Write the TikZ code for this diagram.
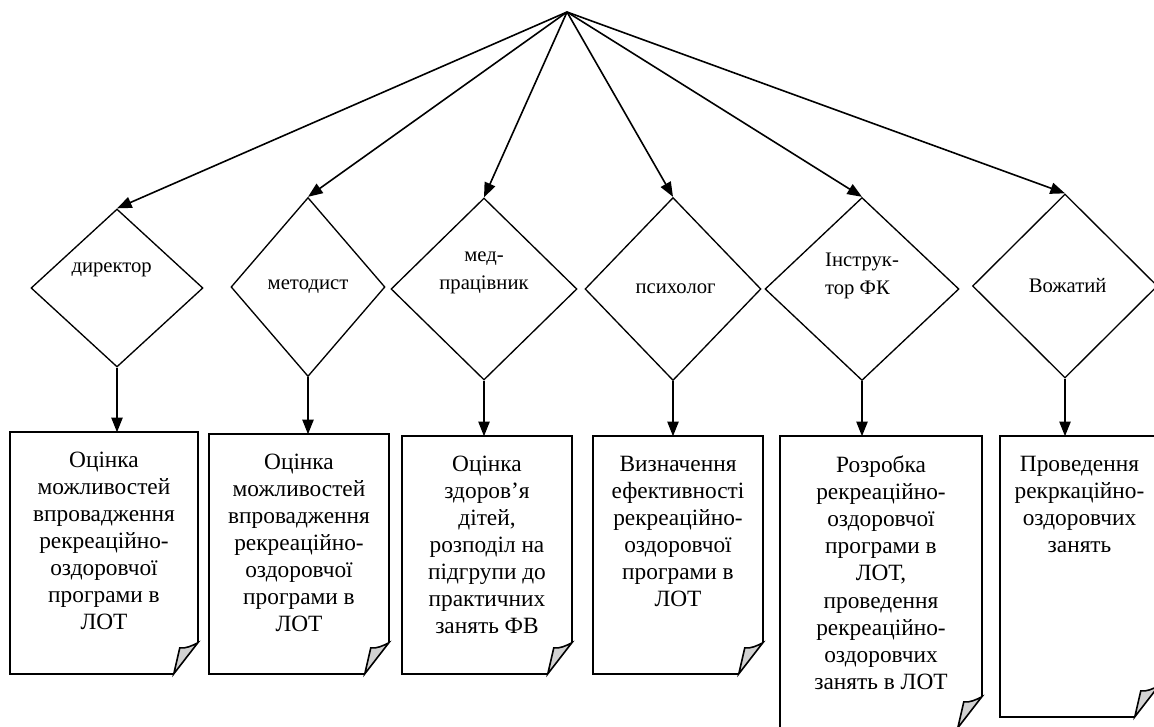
\documentclass[tikz,border=0pt]{standalone}
\usepackage{fontspec}
\setmainfont{Liberation Serif}
\usetikzlibrary{shapes.geometric,arrows.meta,calc}
\newdimen\px \px=0.75pt
\newcommand{\doctext}[3]{\parbox[c][#2\px][t]{#1\px}{\centering\fontsize{17.5}{20.3}\selectfont\vspace*{19\px}#3}}
\newcommand{\docframe}[1]{%
  \filldraw[fill=gray!35] ($(#1.south east)+(-24,0)$) -- ($(#1.south east)+(0,-31)$)
    .. controls ($(#1.south east)+(-6,-28)$) and ($(#1.south east)+(-12,-25)$) .. ($(#1.south east)+(-18,-26)$) -- cycle;
  \draw ($(#1.south east)+(-24,0)$) -- (#1.south west) -- (#1.north west) -- (#1.north east) -- ($(#1.south east)+(0,-31)$);
}
\begin{document}
\begin{tikzpicture}[x=0.75pt,y=-0.75pt,line width=1.2pt,
  arr/.style={-{Triangle[length=11pt,width=8.5pt]}},
  role/.style 2 args={draw,diamond,inner sep=0pt,line width=1pt,minimum width=#1*0.75pt,minimum height=#2*0.75pt},
  docbox/.style={inner sep=0pt},
  every label/.style={font=\fontsize{15.5}{21}\selectfont,align=center}]
\useasboundingbox (0,0) rectangle (1154,726);
\clip (0,0) rectangle (1154,726);
  \coordinate (Top) at (567,12);
  \node (Dyrektor) at (117,288) [role={172}{158},label={[xshift=-4pt,yshift=14pt]center:директор}] {};
  \node (Metodyst) at (308,287) [role={154}{179},label={center:методист}] {};
  \node (Medyk) at (484,289) [role={186}{182},label={[yshift=12pt]center:мед-\\працівник}] {};
  \node (Psykholoh) at (673,289) [role={176}{183},label={[xshift=2pt]center:психолог}] {};
  \node (Instruktor) at (862,289) [role={194}{183},label={[yshift=10pt,align=left]center:Інструк-\\тор ФК}] {};
  \node (Vozhatyi) at (1065,286) [role={185}{184},label={[xshift=2pt]center:Вожатий}] {};
  \node (OcinkaDyr) at (104,553) [docbox] {\doctext{186}{240}{Оцінка\\можливостей\\впровадження\\рекреаційно-\\оздоровчої\\програми в\\ЛОТ}};
  \node (OcinkaMet) at (299,554) [docbox] {\doctext{178}{238}{Оцінка\\можливостей\\впровадження\\рекреаційно-\\оздоровчої\\програми в\\ЛОТ}};
  \node (OcinkaMed) at (487,555) [docbox] {\doctext{168}{236}{Оцінка\\здоров’я\\дітей,\\розподіл на\\підгрупи до\\практичних\\занять ФВ}};
  \node (Vyznach) at (678,555) [docbox] {\doctext{168}{236}{Визначення\\ефективності\\рекреаційно-\\оздоровчої\\програми в\\ЛОТ}};
  \node (Rozrobka) at (881,582) [docbox] {\doctext{200}{290}{Розробка\\рекреаційно-\\оздоровчої\\програми в\\ЛОТ,\\проведення\\рекреаційно-\\оздоровчих\\занять в ЛОТ}};
  \node (Provedennia) at (1079.5,576.5) [docbox] {\doctext{157}{279}{Проведення\\рекркаційно-\\оздоровчих\\занять}};
  \docframe{OcinkaDyr}
  \docframe{OcinkaMet}
  \docframe{OcinkaMed}
  \docframe{Vyznach}
  \docframe{Rozrobka}
  \docframe{Provedennia}
  \foreach \r in {Dyrektor,Metodyst,Medyk,Psykholoh,Instruktor,Vozhatyi}
    \draw [arr] (Top) -- (\r.north);
  \draw [arr] (Dyrektor.south) -- (Dyrektor.south |- OcinkaDyr.north);
  \draw [arr] (Metodyst.south) -- (Metodyst.south |- OcinkaMet.north);
  \draw [arr] (Medyk.south) -- (Medyk.south |- OcinkaMed.north);
  \draw [arr] (Psykholoh.south) -- (Psykholoh.south |- Vyznach.north);
  \draw [arr] (Instruktor.south) -- (Instruktor.south |- Rozrobka.north);
  \draw [arr] (Vozhatyi.south) -- (Vozhatyi.south |- Provedennia.north);
\end{tikzpicture}
\end{document}
